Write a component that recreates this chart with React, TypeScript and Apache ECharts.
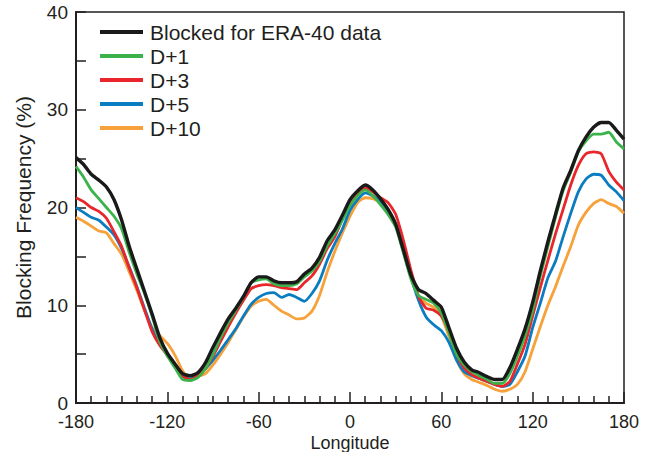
import React, { useEffect, useRef } from "react";
import * as echarts from "echarts";

const longitudes: number[] = [];
for (let l = -180; l <= 180; l += 5) longitudes.push(l);

const seriesNames = ["Blocked for ERA-40 data", "D+1", "D+3", "D+5", "D+10"];
const seriesColors = ["#1a1a1a", "#3bb34a", "#e8262b", "#0a7cc1", "#f7a13a"];

const era40 = [
  25.1, 24.4, 23.4, 22.8, 22.1, 20.8, 18.7, 16.0, 13.7, 11.4, 9.1, 6.7, 5.1, 4.0, 3.0, 2.8, 3.1,
  4.1, 5.7, 7.2, 8.6, 9.7, 10.9, 12.3, 12.9, 12.9, 12.5, 12.3, 12.3, 12.4, 13.2, 13.8, 14.9, 16.6,
  17.7, 19.2, 20.8, 21.7, 22.3, 21.8, 20.9, 19.8, 18.3, 15.7, 13.1, 11.6, 11.2, 10.5, 9.8, 7.7,
  5.6, 4.2, 3.4, 3.1, 2.7, 2.4, 2.4, 3.6, 5.5, 7.6, 10.3, 13.5, 16.5, 19.3, 22.0, 23.8, 25.8,
  27.2, 28.2, 28.7, 28.7, 27.9, 27.0,
];
const d1 = [
  24.2, 23.1, 21.8, 20.9, 20.0, 19.1, 17.8, 15.4, 13.2, 11.2, 8.9, 6.3, 4.8, 3.6, 2.4, 2.3, 2.6,
  3.5, 5.0, 6.7, 8.2, 9.5, 10.8, 12.3, 12.6, 12.7, 12.2, 12.0, 12.0, 12.2, 12.9, 13.5, 14.5, 16.1,
  17.3, 18.7, 20.2, 21.2, 21.8, 21.2, 20.3, 19.3, 18.0, 15.4, 12.7, 11.0, 10.6, 10.2, 9.2, 7.2,
  5.0, 3.9, 3.2, 2.8, 2.4, 2.0, 2.0, 3.0, 4.8, 6.9, 9.5, 13.0, 16.0, 19.0, 21.7, 23.6, 25.7,
  26.8, 27.5, 27.5, 27.7, 26.7, 26.0,
];
const d3 = [
  21.0, 20.6, 20.0, 19.6, 18.9, 17.5, 16.0, 13.8, 11.8, 9.5, 7.3, 5.9, 4.9, 4.0, 2.8, 2.4, 2.8,
  3.5, 4.8, 6.3, 7.8, 9.2, 10.5, 11.7, 12.0, 12.1, 12.0, 11.8, 11.7, 11.6, 12.3, 13.0, 14.2, 15.8,
  17.0, 18.8, 20.3, 21.4, 22.0, 21.6, 21.0, 20.5, 19.3, 16.7, 13.6, 10.9, 9.7, 9.5, 8.9, 7.3,
  5.0, 3.6, 2.9, 2.5, 2.2, 1.9, 1.7, 2.2, 4.0, 6.0, 8.9, 11.8, 14.6, 17.3, 19.8, 22.3, 24.3,
  25.5, 25.7, 25.5, 23.7, 22.6, 21.8,
];
const d5 = [
  20.0, 19.5, 19.0, 18.7, 18.0, 17.2, 15.8, 13.9, 11.9, 9.7, 7.6, 6.0, 5.0, 3.9, 2.7, 2.5, 2.8,
  3.5, 4.4, 5.4, 6.5, 7.6, 8.9, 10.1, 10.8, 11.2, 11.3, 10.8, 11.1, 10.8, 10.4, 11.2, 12.5, 14.6,
  16.3, 17.8, 19.7, 20.8, 21.5, 21.2, 20.5, 19.5, 18.2, 15.6, 12.9, 10.5, 8.8, 8.0, 7.4, 6.2,
  4.4, 3.2, 2.8, 2.5, 2.2, 1.9, 1.7, 1.9, 3.2, 4.8, 7.7, 10.2, 12.8, 14.5, 17.0, 19.4, 21.6,
  22.9, 23.4, 23.3, 22.3, 21.6, 20.7,
];
const d10 = [
  19.0, 18.6, 18.1, 17.6, 17.4, 16.3, 15.2, 13.4, 11.5, 9.5, 7.7, 6.9, 6.1, 4.9, 3.3, 2.4, 2.7,
  3.0, 3.9, 5.0, 6.2, 7.5, 8.8, 9.9, 10.4, 10.6, 10.0, 9.4, 9.0, 8.6, 8.7, 9.4, 11.0, 13.4, 15.5,
  17.4, 19.1, 20.5, 21.0, 20.9, 20.5, 19.6, 18.2, 15.9, 13.2, 11.0, 10.2, 9.8, 8.9, 6.8, 4.4,
  3.0, 2.4, 2.1, 1.8, 1.4, 1.2, 1.4, 1.9, 3.2, 5.5, 7.8, 10.0, 11.9, 14.0, 16.0, 18.2, 19.5,
  20.4, 20.8, 20.4, 20.1, 19.4,
];

const seriesValues = [era40, d1, d3, d5, d10];
const lineWidths = [3.4, 2.8, 2.8, 2.8, 2.8];

const FONT = "Liberation Sans, Arial, sans-serif";
const TEXT_COLOR = "#231f20";

export default function App() {
  const ref = useRef<HTMLDivElement>(null);
  useEffect(() => {
    if (!ref.current) return;
    const chart = echarts.init(ref.current, undefined, { renderer: "svg" });
    const series = seriesValues.map((vals, i) => ({
      name: seriesNames[i],
      type: "line",
      data: longitudes.map((l, j) => [l, vals[j]]),
      showSymbol: false,
      smooth: 0.2,
      lineStyle: { color: seriesColors[i], width: lineWidths[i] },
      itemStyle: { color: seriesColors[i] },
      z: 10 - i,
    }));
    chart.setOption({
      animation: false,
      backgroundColor: "#ffffff",
      grid: {
        left: 76,
        right: 32,
        top: 12,
        bottom: 49,
        show: true,
        borderColor: "#231f20",
        borderWidth: 1.5,
        outerBoundsMode: "none",
        containLabel: false,
      },
      legend: {
        orient: "vertical",
        left: 95,
        top: 16,
        itemWidth: 43,
        itemHeight: 4,
        itemGap: 2,
        icon: "rect",
        data: seriesNames,
        textStyle: {
          fontFamily: FONT,
          fontSize: 21,
          color: TEXT_COLOR,
          lineHeight: 22,
          padding: [0, 0, 0, 2],
        },
      },
      xAxis: {
        type: "value",
        min: -180,
        max: 180,
        interval: 60,
        name: "Longitude",
        nameLocation: "middle",
        nameGap: 31,
        nameMoveOverlap: false,
        nameTextStyle: { fontFamily: FONT, fontSize: 18, lineHeight: 18, color: TEXT_COLOR },
        axisLine: { show: true, onZero: false, lineStyle: { color: "#231f20", width: 2 } },
        axisTick: { show: true, inside: true, length: 11, lineStyle: { color: "#231f20", width: 1.5 } },
        minorTick: { show: true, splitNumber: 6, length: 7, lineStyle: { color: "#231f20", width: 1.5 } },
        splitLine: { show: false },
        axisLabel: { fontFamily: FONT, fontSize: 18, lineHeight: 18, color: TEXT_COLOR, margin: 10 },
      },
      yAxis: {
        type: "value",
        min: 0,
        max: 40,
        interval: 10,
        name: "Blocking Frequency (%)",
        nameLocation: "middle",
        nameRotate: 90,
        nameGap: 42,
        nameTextStyle: { fontFamily: FONT, fontSize: 21, color: TEXT_COLOR },
        axisLine: { show: true, onZero: false, lineStyle: { color: "#231f20", width: 2 } },
        axisTick: { show: true, inside: true, length: 10, lineStyle: { color: "#231f20", width: 1.5 } },
        minorTick: { show: true, splitNumber: 2, length: 10, lineStyle: { color: "#231f20", width: 1.5 } },
        splitLine: { show: false },
        axisLabel: { fontFamily: FONT, fontSize: 19, lineHeight: 19, color: TEXT_COLOR, margin: 8 },
      },
      series,
    });
    return () => chart.dispose();
  }, []);
  return <div ref={ref} style={{ width: 656, height: 452, position: "absolute", left: 0, top: 0 }} />;
}
